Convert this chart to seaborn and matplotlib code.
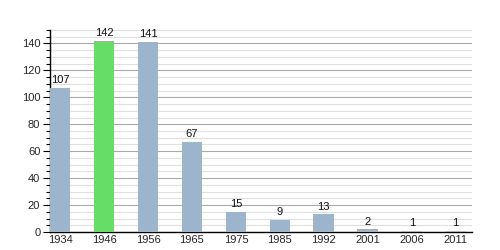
import matplotlib
matplotlib.use("Agg")
import matplotlib.pyplot as plt
import seaborn as sns
import pandas as pd
from matplotlib.ticker import MultipleLocator

years = ["1934", "1946", "1956", "1965", "1975", "1985", "1992", "2001", "2006", "2011"]
values = [107, 142, 141, 67, 15, 9, 13, 2, 1, 1]
highlight = "1946"

sns.set_theme(style="white")
plt.rcParams['font.family'] = ['Liberation Sans', 'DejaVu Sans']

df = pd.DataFrame({"year": years, "value": values})
palette = {y: ("#66dd66" if y == highlight else "#9cb4cc") for y in years}

fig = plt.figure(figsize=(5, 2.5), dpi=100)
ax = fig.add_axes([0.1, 0.072, 0.843, 0.808])
sns.barplot(data=df, x="year", y="value", hue="year", palette=palette,
            width=0.47, saturation=1, legend=False, ax=ax, zorder=3,
            linewidth=0, edgecolor="none")

ax.set_ylim(0, 150)
ax.set_xlim(-0.23, 9.36)
ax.yaxis.set_major_locator(MultipleLocator(20))
ax.yaxis.set_minor_locator(MultipleLocator(5))
ax.grid(axis="y", which="major", color="#aaaaaa", linewidth=0.8, zorder=0)
ax.grid(axis="y", which="minor", color="#e0e0e0", linewidth=0.8, zorder=0)
ax.set_axisbelow(True)

for s in ["top", "right"]:
    ax.spines[s].set_visible(False)
for s in ["left", "bottom"]:
    ax.spines[s].set_color("black")
    ax.spines[s].set_linewidth(1.0)

ax.tick_params(axis="y", which="major", left=True, length=5, width=0.8, color="black",
               labelsize=8, pad=2)
ax.tick_params(axis="y", which="minor", left=True, length=3, width=0.8, color="black")
ax.tick_params(axis="x", bottom=False, length=0, labelsize=8, pad=2)
ax.set_xlabel("")
ax.set_ylabel("")

for i, v in enumerate(values):
    ax.text(i, v + 2, str(v), ha="center", va="bottom", fontsize=8, color="#111111")

fig.savefig("out.png", dpi=100)
